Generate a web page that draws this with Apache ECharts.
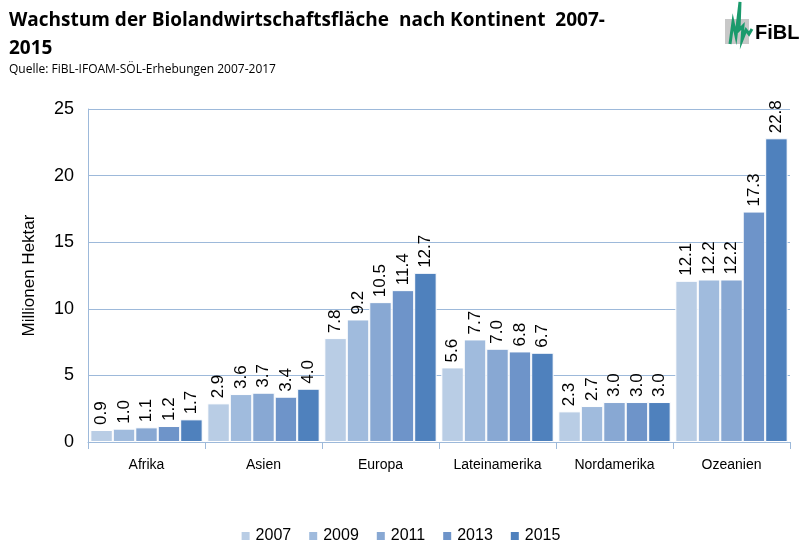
<!DOCTYPE html>
<html><head><meta charset="utf-8">
<script src="https://cdn.jsdelivr.net/npm/echarts@6/dist/echarts.min.js"></script>
<style>html,body{margin:0;padding:0;background:#fff}#c{width:800px;height:557px}</style>
</head><body><div id="c"></div>
<script>
const categories = ['Afrika','Asien','Europa','Lateinamerika','Nordamerika','Ozeanien'];
const years = ['2007','2009','2011','2013','2015'];
const v2007 = [0.9, 2.9, 7.8, 5.6, 2.3, 12.1];
const v2009 = [1.0, 3.6, 9.2, 7.7, 2.7, 12.2];
const v2011 = [1.1, 3.7, 10.5, 7.0, 3.0, 12.2];
const v2013 = [1.2, 3.4, 11.4, 6.8, 3.0, 17.3];
const v2015 = [1.7, 4.0, 12.7, 6.7, 3.0, 22.8];
const yTicks = [0,5,10,15,20,25];
const colors = ['#B9CDE5','#A0BBDD','#88A8D3','#6E94C9','#4F81BD'];
const seriesVals = [v2007,v2009,v2011,v2013,v2015];
const font = 'Liberation Sans, Arial, sans-serif';

const chart = echarts.init(document.getElementById('c'), null, {renderer:'canvas'});
chart.setOption({
  animation:false,
  color: colors,
  textStyle:{fontFamily:font},
  title:[{
    text:'Wachstum der Biolandwirtschaftsfläche  nach Kontinent  2007-\n2015',
    left:4, top:2,
    textStyle:{fontSize:19, fontWeight:'bold', color:'#000', lineHeight:28, fontFamily:'Open Sans, sans-serif'}
  },{
    text:'Quelle: FiBL-IFOAM-SÖL-Erhebungen 2007-2017',
    left:4, top:59,
    textStyle:{fontSize:12, fontWeight:'normal', color:'#000', fontFamily:'Open Sans, sans-serif'}
  }],
  graphic:[
    {type:'rect', shape:{x:725,y:19,width:24,height:25}, style:{fill:'#c8c8c8'}},
    {type:'polyline', shape:{points:[[730,44],[733,22],[736,36],[740,2],[739,30],[743,26],[742,40],[746,30],[749,34],[752,29]]}, style:{stroke:'#1a9a6c', lineWidth:3, fill:null}},
    {type:'text', left:755, top:23, style:{text:'FiBL', font:'bold 20px Liberation Sans, Arial, sans-serif', fill:'#000'}}
  ],
  legend:{
    data:years, bottom:8, left:'center',
    itemWidth:10, itemHeight:10, itemGap:16, icon:'rect',
    textStyle:{fontSize:16, color:'#000', fontFamily:font}
  },
  grid:{left:88, right:10, top:109, bottom:115},
  xAxis:{
    type:'category', data:categories,
    axisLine:{lineStyle:{color:'#9DB9DA', width:1}},
    axisTick:{show:true, length:7, lineStyle:{color:'#9DB9DA'}},
    axisLabel:{fontSize:14, color:'#000', margin:16, fontFamily:font},
  },
  yAxis:{
    type:'value', min:0, max:25, interval:5,
    name:'Millionen Hektar', nameLocation:'middle', nameGap:50, nameRotate:90,
    nameTextStyle:{fontSize:17, color:'#000', fontFamily:font},
    axisLine:{show:true, lineStyle:{color:'#9DB9DA'}},
    axisTick:{show:false},
    axisLabel:{fontSize:18, color:'#000', margin:14, fontFamily:font},
    splitLine:{lineStyle:{color:'#9DB9DA', width:1}}
  },
  series: seriesVals.map((vals,i)=>({
    name:years[i], type:'bar', data:vals,
    barGap:'0%', barCategoryGap:'4%',
    itemStyle:{color:colors[i], borderColor:'#fff', borderWidth:1},
    label:{show:true, position:'top', rotate:90, align:'left', verticalAlign:'middle', distance:5,
      fontSize:17, color:'#000', fontFamily:font, formatter:p=>p.value.toFixed(1)}
  }))
});
</script></body></html>
